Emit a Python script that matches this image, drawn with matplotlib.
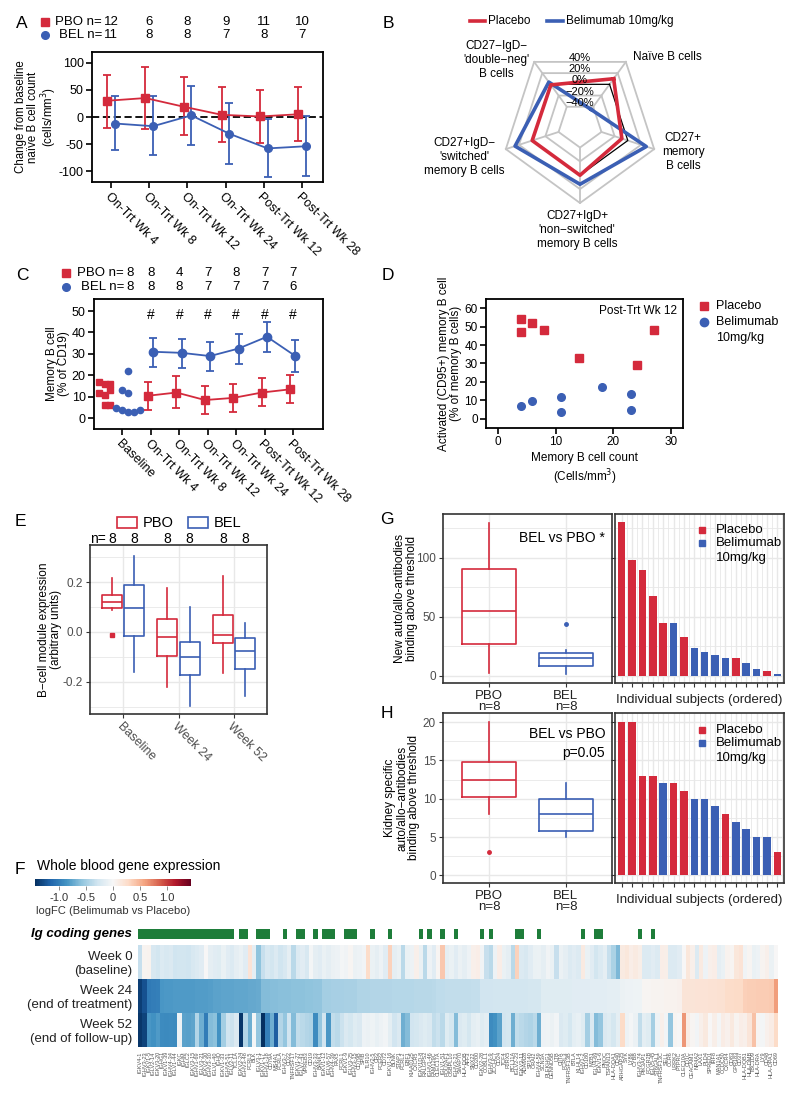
import numpy as np
import matplotlib.pyplot as plt
from matplotlib.transforms import blended_transform_factory
from matplotlib.patches import Rectangle
from matplotlib.cm import ScalarMappable
from matplotlib.colors import Normalize

plt.rcParams['font.family'] = ['Liberation Sans', 'DejaVu Sans']
plt.rcParams['axes.unicode_minus'] = False

W, H = 800, 1105
RED = '#d42a3c'
BLUE = '#3b5fb4'
GRID = '#e8e8e8'
DARK = '#333333'

# ---------------- data ----------------
# A: change from baseline naive B cell count
a_times = ['On-Trt Wk 4', 'On-Trt Wk 8', 'On-Trt Wk 12', 'On-Trt Wk 24', 'Post-Trt Wk 12', 'Post-Trt Wk 28']
a_pbo = [30, 35, 19, 4, 1, 5]
a_pbo_lo = [-20, -23, -34, -47, -48, -44]
a_pbo_hi = [77, 93, 73, 56, 50, 56]
a_bel = [-12, -17, 3, -31, -58, -54]
a_bel_lo = [-61, -71, -52, -86, -111, -109]
a_bel_hi = [38, 39, 58, 25, -4, 2]
a_pbo_n = [12, 6, 8, 9, 11, 10]
a_bel_n = [11, 8, 8, 7, 8, 7]

# B: radar, % change
b_axes = ["Naïve B cells", "CD27+\nmemory\nB cells", "CD27+IgD+\n'non−switched'\nmemory B cells",
          "CD27+IgD−\n'switched'\nmemory B cells", "CD27−IgD−\n'double−neg'\nB cells"]
b_placebo = [10, -9, 0, 0, -1]
b_bel = [-45, 28, 13, 26, 4]
b_rings = [-40, -20, 0, 20, 40]

# C: memory B cells % of CD19
c_times = ['Baseline'] + a_times
c_base_pbo = [17, 12, 16, 11, 6, 16, 13, 6]
c_base_bel = [5, 13, 4, 22, 12, 3, 3, 4]
c_swarm_pbo_dx = [-0.84, -0.84, -0.63, -0.63, -0.63, -0.42, -0.42, -0.42]
c_swarm_bel_dx = [-0.21, 0, 0, 0.18, 0.18, 0.18, 0.39, 0.6]
c_pbo = [10.5, 12, 8.5, 9.5, 12, 13.5]
c_pbo_lo = [4, 5, 2, 3, 5.5, 7]
c_pbo_hi = [17, 19.5, 15, 16, 19, 20]
c_bel = [31, 30.5, 29, 32.5, 38, 29]
c_bel_lo = [24, 23.5, 22, 25.5, 31, 21.5]
c_bel_hi = [37.5, 37, 35.5, 39.5, 45, 36.5]
c_pbo_n = [8, 8, 4, 7, 8, 7, 7]
c_bel_n = [8, 8, 8, 7, 7, 7, 6]

# D: activated memory B cells vs count
d_pbo_x = [4, 4, 6, 8, 14, 24, 27]
d_pbo_y = [54, 47, 52, 48, 33, 29, 48]
d_bel_x = [4, 6, 11, 11, 18, 23, 23]
d_bel_y = [7, 9.5, 12, 3.5, 17, 13.5, 5]

# E: B-cell module expression boxplots
e_times = ['Baseline', 'Week 24', 'Week 52']
e_pbo_whislo = [0.088, -0.22, -0.167]
e_pbo_q1 = [0.096, -0.095, -0.046]
e_pbo_med = [0.121, -0.022, -0.012]
e_pbo_q3 = [0.147, 0.053, 0.068]
e_pbo_whishi = [0.217, 0.175, 0.224]
e_pbo_fliers = [[-0.013], [], []]
e_bel_whislo = [-0.162, -0.296, -0.257]
e_bel_q1 = [-0.016, -0.174, -0.149]
e_bel_med = [0.096, -0.101, -0.075]
e_bel_q3 = [0.191, -0.040, -0.025]
e_bel_whishi = [0.305, 0.099, 0.037]
e_n = [8, 8, 8, 8, 8, 8]

# G: new auto/allo-antibodies
g_pbo_box = dict(whislo=2.8, q1=27.1, med=55.3, q3=90.7, whishi=129, fliers=[])
g_bel_box = dict(whislo=1.4, q1=8.5, med=15.3, q3=19.5, whishi=22, fliers=[43.8])
g_bars = [130, 98, 90, 68, 45, 45, 33, 23.5, 20, 18, 15, 15, 11, 6, 4, 2]
g_groups = ['P', 'P', 'P', 'P', 'P', 'B', 'P', 'B', 'B', 'B', 'B', 'P', 'B', 'B', 'P', 'B']

# H: kidney specific antibodies
h_pbo_box = dict(whislo=8, q1=10.25, med=12.5, q3=14.75, whishi=20, fliers=[3])
h_bel_box = dict(whislo=5, q1=5.75, med=8, q3=10, whishi=12, fliers=[])
h_bars = [20, 20, 13, 13, 12, 12, 11, 10, 10, 9, 8, 7, 6, 5, 5, 3]
h_groups = ['P', 'P', 'P', 'P', 'B', 'P', 'P', 'B', 'B', 'B', 'P', 'B', 'B', 'B', 'B', 'P']

# F: whole blood gene expression heatmap (logFC)
f_genes = ['IGKV4-1', 'IGHV3-23', 'IGKV1-5', 'IGLV2-14', 'IGKV3-20', 'IGHG1', 'IGKV1-39', 'IGHV4-34',
           'IGLV1-44', 'IGKC', 'IGHM', 'IGLC2', 'IGKV3-15', 'IGHV1-69', 'IGLV3-21', 'IGKV2-30',
           'IGHV3-30', 'IGLV1-40', 'IGHD', 'IGKV1-33', 'IGHV5-51', 'IGLV2-11', 'TCL1A', 'IGKV2-24',
           'IGHV3-48', 'FCRL5', 'BLK', 'IGLV3-1', 'IGKV1-17', 'IGHV1-18', 'CD79A', 'MS4A1',
           'FCRLA', 'IGHV3-7', 'CD22', 'TNFRSF17', 'IGKV1-27', 'IGLV7-43', 'VPREB3', 'CD19',
           'IGHV3-33', 'BANK1', 'IGKV1-12', 'IGLV6-57', 'IGHV4-39', 'PAX5', 'FCRL1', 'IGKV1-9',
           'IGLV3-25', 'IGHV3-15', 'CD79B', 'SPIB', 'TLR10', 'IGHV2-5', 'CR2', 'FCER2',
           'CD72', 'IGKV1-16', 'BLNK', 'STAP1', 'FCRL2', 'EBF1', 'KIAA0125', 'CXCR5',
           'IGKV1D-8', 'RALGPS2', 'IGHV1-46', 'FAM129C', 'CLEC17A', 'IGLV1-51', 'POU2AF1', 'OSBPL10',
           'IGHV3-21', 'SWAP70', 'HLA-DOB', 'AFF3', 'SNX22', 'CD200', 'IGKV2-28', 'COBLL1',
           'IGHV3-9', 'ZCCHC7', 'CD24', 'TCF4', 'P2RX5', 'BCL11A', 'IGLV2-23', 'IGKV3-11',
           'ADAM28', 'SP140', 'ORAI2', 'IGHV4-59', 'SCN3A', 'PLEKHG1', 'DENND5B', 'LTB',
           'CIITA', 'FCRL3', 'TNFRSF13B', 'BTLA', 'KLHL14', 'IGHV1-2', 'CD180', 'MZB1',
           'IGLV4-69', 'IGKV1-6', 'PNOC', 'TSPAN13', 'HLA-DQA1', 'CD40', 'ARHGAP25', 'SYK',
           'LY86', 'CYBB', 'IGHV3-74', 'PIK3AP1', 'FCGR2B', 'IGLV5-45', 'ST6GAL1', 'TNFRSF13C',
           'SELL', 'CCR6', 'LRRK2', 'PTPRC', 'CLEC10A', 'CD1C', 'CEACAM1', 'NR4A2',
           'LAX1', 'PLD4', 'SPRED1', 'IRF8', 'MAN1A1', 'CCDC50', 'CXCR4', 'CD83',
           'GPR183', 'CD37', 'HLA-DQB1', 'HLA-DMB', 'TBC1D9', 'HLA-DRA', 'LY9', 'CD48',
           'HLA-DPA1', 'CD69']
f_week0 = [-0.33, 0.04, 0.05, -0.23, -0.26, -0.20, -0.23, -0.21, -0.29, -0.26,
           -0.26, -0.29, -0.23, -0.20, -0.16, 0.00, -0.13, -0.16, -0.18, -0.10,
           -0.16, -0.20, -0.13, -0.10, -0.16, 0.20, -0.13, -0.58, -0.33, -0.23,
           -0.26, -0.20, -0.29, -0.23, -0.13, -0.39, -0.20, -0.16, -0.23, -0.03,
           -0.13, -0.16, -0.10, -0.13, -0.08, -0.07, -0.03, -0.05, 0.03, -0.08,
           -0.07, -0.04, 0.26, -0.10, -0.13, -0.07, -0.16, 0.33, -0.13, -0.10,
           -0.39, -0.10, -0.07, 0.07, -0.10, -0.39, -0.07, -0.16, 0.03, 0.39,
           -0.13, -0.10, -0.16, -0.08, -0.13, -0.07, 0.07, 0.10, -0.05, -0.33,
           -0.39, -0.07, 0.10, -0.10, -0.13, -0.39, 0.33, -0.20, -0.23, -0.16,
           -0.10, -0.08, -0.13, -0.05, -0.10, -0.33, -0.08, -0.13, -0.20, -0.16,
           -0.20, 0.13, -0.10, -0.16, -0.26, -0.20, -0.13, -0.33, -0.46, -0.65,
           0.13, 0.16, 0.10, 0.13, 0.08, -0.20, -0.20, -0.16, -0.20, 0.10,
           0.08, -0.20, -0.20, -0.16, 0.00, 0.16, 0.07, -0.20, 0.13, -0.07,
           0.07, 0.10, -0.13, -0.10, 0.05, 0.03, 0.16, 0.20, -0.05, 0.03,
           -0.10, -0.07, 0.04, 0.07, -0.08, 0.00]
f_week24 = [-1.35, -1.25, -1.02, -1.00, -0.98, -0.84, -0.83, -0.83, -0.82, -0.82,
            -0.82, -0.81, -0.81, -0.80, -0.80, -0.80, -0.79, -0.77, -0.77, -0.76,
            -0.76, -0.76, -0.75, -0.75, -0.75, -0.74, -0.74, -0.73, -0.62, -0.62,
            -0.61, -0.61, -0.60, -0.60, -0.60, -0.59, -0.59, -0.59, -0.58, -0.58,
            -0.57, -0.57, -0.49, -0.49, -0.48, -0.48, -0.48, -0.47, -0.47, -0.47,
            -0.43, -0.43, -0.43, -0.42, -0.42, -0.42, -0.42, -0.42, -0.41, -0.41,
            -0.41, -0.41, -0.41, -0.40, -0.40, -0.40, -0.40, -0.39, -0.37, -0.37,
            -0.36, -0.36, -0.36, -0.35, -0.35, -0.35, -0.34, -0.34, -0.28, -0.28,
            -0.28, -0.27, -0.27, -0.27, -0.27, -0.26, -0.26, -0.26, -0.26, -0.25,
            -0.25, -0.25, -0.18, -0.18, -0.18, -0.17, -0.17, -0.17, -0.17, -0.16,
            -0.16, -0.16, -0.16, -0.15, -0.15, -0.15, -0.15, -0.14, -0.14, -0.14,
            -0.08, -0.07, -0.07, -0.06, -0.06, 0.03, 0.03, 0.04, 0.04, 0.04,
            0.05, 0.05, 0.05, 0.06, 0.18, 0.19, 0.19, 0.20, 0.20, 0.20,
            0.21, 0.21, 0.22, 0.22, 0.26, 0.26, 0.27, 0.27, 0.34, 0.35,
            0.35, 0.36, 0.36, 0.37, 0.38, 0.60]
f_week52 = [-1.40, -1.33, -0.84, -0.87, -0.81, -0.91, -0.92, -0.90, -0.92, -0.07,
            -0.77, -0.78, -0.76, -0.42, -0.70, -1.01, -0.63, -0.59, -0.87, -0.49,
            -0.28, -0.31, -0.21, -1.40, -0.42, -0.70, -0.03, -0.56, -1.60, -0.98,
            -0.70, -1.19, -0.42, -0.56, -0.28, -0.63, -0.35, -0.39, -0.42, -0.45,
            -0.91, -0.56, -0.28, -0.84, -0.35, -0.39, -0.31, -0.21, -0.25, -0.17,
            -0.21, -0.07, -0.08, -0.06, -0.11, -0.07, -0.04, -0.14, -0.28, -0.21,
            -0.70, -0.63, -0.28, -0.25, -0.21, -0.17, -0.21, -0.35, -0.31, -0.39,
            -0.17, -0.25, -0.63, -0.21, -0.17, -0.25, -0.14, -0.11, -0.17, -0.14,
            -0.91, -0.87, -0.77, -0.28, -0.25, -0.70, -0.35, -0.39, -0.42, -0.45,
            -0.39, -0.70, -0.07, -0.06, -0.08, -0.04, -0.21, -0.17, -0.25, -0.14,
            -0.11, -0.17, -0.49, -0.21, -0.63, -0.56, -0.21, -0.17, -0.25, -0.14,
            0.28, -0.07, -0.03, -0.08, -0.35, -0.14, -0.17, -0.49, -0.07, 0.07,
            -0.04, -0.56, 0.03, 0.00, 0.63, 0.11, 0.03, -0.04, 0.07, 0.14,
            0.00, 0.08, -0.03, 0.11, 0.06, 0.14, 0.04, 0.10, 0.07, 0.17,
            0.42, 0.03, -0.03, 0.06, 0.11, 0.28]
f_rows = ['Week 0\n(baseline)', 'Week 24\n(end of treatment)', 'Week 52\n(end of follow-up)']


# ---------------- helpers ----------------
fig = plt.figure(figsize=(W / 100, H / 100), dpi=100)


def px_axes(l, t, r, b):
    return fig.add_axes([l / W, 1 - b / H, (r - l) / W, (b - t) / H])


def prism_axes(ax):
    for s in ax.spines.values():
        s.set_linewidth(1.3)
        s.set_color('black')
    ax.tick_params(direction='out', length=4, width=1.2, labelsize=9, pad=2)


def gg_axes(ax):
    for s in ax.spines.values():
        s.set_linewidth(1.2)
        s.set_color(DARK)
    ax.set_facecolor('white')
    ax.grid(True, which='major', color=GRID, lw=1.0)
    ax.grid(True, which='minor', color=GRID, lw=0.6)
    ax.set_axisbelow(True)
    ax.tick_params(which='both', direction='out', length=3, width=0.8, color=DARK,
                   labelsize=8.5, labelcolor='#4d4d4d', pad=2)
    ax.tick_params(which='minor', length=0)


def ylabel_at(ax, text, x_px, size):
    # centre the (rotated) y label at a given pixel column
    l = ax.get_position().x0 * W
    w = ax.get_position().width * W
    ax.set_ylabel(text, fontsize=size, va='center', ha='center', linespacing=1.05)
    ax.yaxis.set_label_coords((x_px - l) / w, 0.5)


def gcol(g):
    return RED if g == 'P' else BLUE


# ---------------- panel A ----------------
axA = px_axes(92, 52, 323, 182)
xa = np.arange(len(a_times))
axA.axhline(0, color='black', ls=(0, (4, 2)), lw=1.3, zorder=1)
axA.errorbar(xa - 0.1, a_pbo, yerr=[np.subtract(a_pbo, a_pbo_lo), np.subtract(a_pbo_hi, a_pbo)],
             color=RED, marker='s', ms=5.5, lw=1.3, capsize=3, capthick=1.3, zorder=3)
axA.errorbar(xa + 0.1, a_bel, yerr=[np.subtract(a_bel, a_bel_lo), np.subtract(a_bel_hi, a_bel)],
             color=BLUE, marker='o', ms=5.5, lw=1.3, capsize=3, capthick=1.3, zorder=3)
axA.set_xlim(-0.5, 5.55)
axA.set_ylim(-120, 120)
axA.set_yticks([-100, -50, 0, 50, 100])
axA.set_xticks(xa)
axA.set_xticklabels(a_times, rotation=-45, ha='left', va='top', rotation_mode='anchor', fontsize=9)
prism_axes(axA)
ylabel_at(axA, 'Change from baseline\nnaïve B cell count\n(cells/mm$^3$)', 37, 8.3)
tA = blended_transform_factory(axA.transData, axA.transAxes)
for i in range(len(a_times)):
    axA.text(i, 1.23, str(a_pbo_n[i]), transform=tA, ha='center', va='center', fontsize=9.5)
    axA.text(i, 1.13, str(a_bel_n[i]), transform=tA, ha='center', va='center', fontsize=9.5)

# ---------------- panel C ----------------
axC = px_axes(94, 299, 323, 429)
xc = np.arange(1, len(c_times))
axC.plot(c_swarm_pbo_dx, c_base_pbo, 's', color=RED, ms=5, ls='none')
axC.plot(c_swarm_bel_dx, c_base_bel, 'o', color=BLUE, ms=4.5, ls='none')
axC.errorbar(xc - 0.1, c_pbo, yerr=[np.subtract(c_pbo, c_pbo_lo), np.subtract(c_pbo_hi, c_pbo)],
             color=RED, marker='s', ms=5.5, lw=1.3, capsize=3, capthick=1.3)
axC.errorbar(xc + 0.08, c_bel, yerr=[np.subtract(c_bel, c_bel_lo), np.subtract(c_bel_hi, c_bel)],
             color=BLUE, marker='o', ms=6, lw=1.3, capsize=3, capthick=1.3)
for x in xc:
    axC.text(x, 48, '#', ha='center', va='center', fontsize=10)
axC.set_xlim(-1.0, 7.05)
axC.set_ylim(-5, 55.6)
axC.set_yticks([0, 10, 20, 30, 40, 50])
axC.set_xticks(np.arange(len(c_times)))
axC.set_xticklabels(c_times, rotation=-45, ha='left', va='top', rotation_mode='anchor', fontsize=9)
prism_axes(axC)
ylabel_at(axC, 'Memory B cell\n(% of CD19)', 58, 8.5)
tC = blended_transform_factory(axC.transData, axC.transAxes)
c_nx = [0.28] + list(xc)
for i in range(len(c_times)):
    axC.text(c_nx[i], 1.2, str(c_pbo_n[i]), transform=tC, ha='center', va='center', fontsize=9.5)
    axC.text(c_nx[i], 1.09, str(c_bel_n[i]), transform=tC, ha='center', va='center', fontsize=9.5)

# ---------------- panel B (radar) ----------------
axB = px_axes(400, 0, 800, 260)
axB.set_xlim(-180, 220)
axB.set_ylim(-135, 125)
axB.axis('off')
RMIN, RMAX, RPX = -72.5, 40, 78
ang = np.deg2rad([54, -18, -90, -162, -234])


def rad(v):
    return (np.asarray(v, dtype=float) - RMIN) / (RMAX - RMIN) * RPX


def poly(vals):
    r = rad(vals)
    x = r * np.cos(ang)
    y = r * np.sin(ang)
    return np.append(x, x[0]), np.append(y, y[0])


for lev in b_rings:
    px_, py_ = poly([lev] * 5)
    if lev == 0:
        axB.plot(px_, py_, color='black', lw=0.9, zorder=3)
    else:
        axB.plot(px_, py_, color='#c4c4c4', lw=1.3, zorder=1)
r_in, r_out = rad(b_rings[0]), rad(b_rings[-1])
for a in ang:
    axB.plot([r_in * np.cos(a), r_out * np.cos(a)], [r_in * np.sin(a), r_out * np.sin(a)],
             color='#c4c4c4', lw=1.3, zorder=1)
px_, py_ = poly(b_bel)
axB.plot(px_, py_, color=BLUE, lw=2.6, zorder=4)
px_, py_ = poly(b_placebo)
axB.plot(px_, py_, color=RED, lw=2.6, zorder=5)
for lev in b_rings:
    axB.text(0, float(rad(lev)) * np.sin(np.deg2rad(54)) - 1, f'{lev}%'.replace('-', '−'),
             ha='center', va='bottom', fontsize=8, zorder=6)
b_lab_pos = [(87, 68), (103, -27), (-3, -105), (-116, -32), (-84, 65)]
for lab, (lx, ly) in zip(b_axes, b_lab_pos):
    axB.text(lx, ly, lab, ha='center', va='center', fontsize=8.5, linespacing=1.2)

# ---------------- panel D ----------------
axD = px_axes(486, 299, 683, 428)
axD.plot(d_pbo_x, d_pbo_y, 's', color=RED, ms=5.5)
axD.plot(d_bel_x, d_bel_y, 'o', color=BLUE, ms=5.5)
axD.set_xlim(-2, 32)
axD.set_ylim(-5, 65)
axD.set_xticks([0, 10, 20, 30])
axD.set_yticks([0, 10, 20, 30, 40, 50, 60])
prism_axes(axD)
axD.tick_params(labelsize=8.5)
axD.text(0.97, 0.91, 'Post-Trt Wk 12', transform=axD.transAxes, ha='right', va='center', fontsize=8.5)
axD.set_xlabel('Memory B cell count\n(Cells/mm$^3$)', fontsize=8.5, labelpad=3)
ylabel_at(axD, 'Activated (CD95+) memory B cell\n(% of memory B cells)', 450, 8.5)

# ---------------- panel E ----------------
axE = px_axes(90, 545, 267, 714)
xe = np.arange(1, len(e_times) + 1)
pbo_stats = [dict(whislo=e_pbo_whislo[i], q1=e_pbo_q1[i], med=e_pbo_med[i], q3=e_pbo_q3[i],
                  whishi=e_pbo_whishi[i], fliers=e_pbo_fliers[i]) for i in range(3)]
bel_stats = [dict(whislo=e_bel_whislo[i], q1=e_bel_q1[i], med=e_bel_med[i], q3=e_bel_q3[i],
                  whishi=e_bel_whishi[i], fliers=[]) for i in range(3)]
for stats, dx, col in [(pbo_stats, -0.2, RED), (bel_stats, 0.2, BLUE)]:
    axE.bxp(stats, positions=xe + dx, widths=0.36, showcaps=False, manage_ticks=False,
            boxprops=dict(color=col, lw=1.2), medianprops=dict(color=col, lw=1.2),
            whiskerprops=dict(color=col, lw=1.2),
            flierprops=dict(marker='s', markersize=2.5, markerfacecolor=col, markeredgecolor=col))
axE.set_xlim(0.4, 3.6)
axE.set_ylim(-0.33, 0.35)
axE.set_yticks([-0.2, 0.0, 0.2])
axE.set_yticks([-0.3, -0.1, 0.1, 0.3], minor=True)
axE.set_yticklabels(['-0.2', '0.0', '0.2'])
axE.set_xticks(xe)
axE.set_xticklabels(e_times, rotation=-45, ha='left', va='top', rotation_mode='anchor')
gg_axes(axE)
axE.tick_params(axis='x', labelsize=9)
ylabel_at(axE, 'B−cell module expression\n(arbitrary units)', 50, 8.5)
tE = blended_transform_factory(axE.transData, axE.transAxes)
e_nx = [x + d for x in xe for d in (-0.2, 0.2)]
for x, n in zip(e_nx, e_n):
    axE.text(x, 1.035, str(n), transform=tE, ha='center', va='center', fontsize=10)
axE.text(0.69, 1.035, 'n=', transform=tE, ha='right', va='center', fontsize=10)


# ---------------- panels G and H ----------------
def box_panel(ax, pbo_box, bel_box, ylim, major, minor, note, note_y):
    ax.bxp([pbo_box], positions=[1], widths=0.7, showcaps=False, manage_ticks=False,
           boxprops=dict(color=RED, lw=1.2), medianprops=dict(color=RED, lw=1.2),
           whiskerprops=dict(color=RED, lw=1.2),
           flierprops=dict(marker='o', markersize=2.5, markerfacecolor=RED, markeredgecolor=RED))
    ax.bxp([bel_box], positions=[2], widths=0.7, showcaps=False, manage_ticks=False,
           boxprops=dict(color=BLUE, lw=1.2), medianprops=dict(color=BLUE, lw=1.2),
           whiskerprops=dict(color=BLUE, lw=1.2),
           flierprops=dict(marker='o', markersize=2.5, markerfacecolor=BLUE, markeredgecolor=BLUE))
    ax.set_xlim(0.4, 2.6)
    ax.set_ylim(*ylim)
    ax.set_yticks(major)
    ax.set_yticks(minor, minor=True)
    ax.set_xticks([1, 2])
    ax.set_xticklabels(['PBO\nn=8', 'BEL\nn=8'], linespacing=0.95)
    gg_axes(ax)
    ax.tick_params(axis='x', labelsize=9.5, labelcolor='#222222', pad=2)
    ax.text(0.96, note_y, note, transform=ax.transAxes, ha='right', va='top', fontsize=10,
            linespacing=1.45)


def bar_panel(ax, vals, groups, ylim, major, minor):
    xb = np.arange(1, len(vals) + 1)
    ax.bar(xb, vals, width=0.72, color=[gcol(g) for g in groups])
    ax.set_xlim(0.35, len(vals) + 0.65)
    ax.set_ylim(*ylim)
    ax.set_yticks(major)
    ax.set_yticks(minor, minor=True)
    ax.set_xticks(xb)
    ax.set_xticks(xb + 0.5, minor=True)
    ax.set_yticklabels([])
    ax.set_xticklabels([])
    gg_axes(ax)
    ax.set_xlabel('Individual subjects (ordered)', fontsize=9.5, labelpad=3, color='#222222')


axG = px_axes(443, 514, 612, 683)
box_panel(axG, g_pbo_box, g_bel_box, (-6, 137), [0, 50, 100], [25, 75, 125], 'BEL vs PBO *', 0.9)
ylabel_at(axG, 'New auto/allo-antibodies\nbinding above threshold', 406, 8.5)
axG2 = px_axes(615, 514, 784, 683)
bar_panel(axG2, g_bars, g_groups, (-6, 137), [0, 50, 100], [25, 75, 125])

axH = px_axes(443, 713, 612, 883)
box_panel(axH, h_pbo_box, h_bel_box, (-1, 21.2), [0, 5, 10, 15, 20], [2.5, 7.5, 12.5, 17.5],
          'BEL vs PBO\np=0.05', 0.915)
ylabel_at(axH, 'Kidney specific\nauto/allo−antibodies\nbinding above threshold', 402, 8.5)
axH2 = px_axes(615, 713, 784, 883)
bar_panel(axH2, h_bars, h_groups, (-1, 21.2), [0, 5, 10, 15, 20], [2.5, 7.5, 12.5, 17.5])

# ---------------- panel F (heatmap) ----------------
ng = len(f_genes)
hm = np.array([f_week0, f_week24, f_week52])
norm = Normalize(vmin=-1.44, vmax=1.44)
axF = px_axes(138, 945, 778, 1047)
axF.imshow(hm, cmap='RdBu_r', norm=norm, aspect='auto', interpolation='nearest',
           extent=(-0.5, ng - 0.5, 2.5, -0.5))
axF.set_yticks([0, 1, 2])
axF.set_yticklabels(f_rows, fontsize=9.5, color='#222222')
axF.set_xticks(np.arange(ng))
axF.set_xticklabels(f_genes, rotation=90, fontsize=4, color='#555555')
axF.tick_params(length=0, pad=4)
axF.tick_params(axis='x', pad=3)
for s in axF.spines.values():
    s.set_visible(False)

axIg = px_axes(138, 929, 778, 939)
ig_idx = [i for i, g in enumerate(f_genes) if g.startswith('IG')]
axIg.bar(ig_idx, [1] * len(ig_idx), width=1.0, color='#1e7d3a', align='center')
axIg.set_xlim(-0.5, ng - 0.5)
axIg.set_ylim(0, 1)
axIg.axis('off')

cax = px_axes(35, 879, 191, 886)
cb = fig.colorbar(ScalarMappable(norm=norm, cmap='RdBu_r'), cax=cax, orientation='horizontal')
cb.outline.set_visible(False)
cb.set_ticks([-1.0, -0.5, 0, 0.5, 1.0])
cb.set_ticklabels(['-1.0', '-0.5', '0', '0.5', '1.0'])
cax.tick_params(length=3, width=0.6, color='#777777', labelsize=8, labelcolor='#333333', pad=2)
cax.set_xlabel('logFC (Belimumab vs Placebo)', fontsize=8, labelpad=2, color='#333333')

# ---------------- overlay: panel letters, legends, headers ----------------
ov = fig.add_axes([0, 0, 1, 1])
ov.set_xlim(0, W)
ov.set_ylim(H, 0)
ov.axis('off')
for lab, x, y in [('A', 22, 23), ('B', 388, 23), ('C', 22, 275), ('D', 388, 275),
                  ('E', 20, 522), ('G', 387, 520), ('H', 387, 714), ('F', 20, 870)]:
    ov.text(x, y, lab, fontsize=12.5, ha='center', va='center')

# A / C header keys
for yy, mk, col, txt, xm, xr in [(22, 's', RED, 'PBO n=', 45, 102), (35, 'o', BLUE, 'BEL n=', 45, 102),
                                 (273, 's', RED, 'PBO n=', 66, 124), (287, 'o', BLUE, 'BEL n=', 66, 124)]:
    ov.plot(xm, yy, mk, color=col, ms=5.5)
    ov.text(xr, yy, txt, ha='right', va='center', fontsize=9.5)

# B legend
ov.plot([470, 485], [21, 21], color=RED, lw=2.6)
ov.text(488, 21, 'Placebo', ha='left', va='center', fontsize=8.5)
ov.plot([547, 563], [21, 21], color=BLUE, lw=2.6)
ov.text(566, 21, 'Belimumab 10mg/kg', ha='left', va='center', fontsize=8.5)

# D legend
ov.plot(704, 306, 's', color=RED, ms=6)
ov.text(716, 306, 'Placebo', ha='left', va='center', fontsize=9)
ov.plot(704, 322, 'o', color=BLUE, ms=6)
ov.text(716, 322, 'Belimumab', ha='left', va='center', fontsize=9)
ov.text(716, 338, '10mg/kg', ha='left', va='center', fontsize=9)

# E legend
ov.add_patch(Rectangle((117, 517), 20, 11, fill=False, edgecolor=RED, lw=1.2))
ov.text(143, 523, 'PBO', ha='left', va='center', fontsize=10.5)
ov.add_patch(Rectangle((188, 517), 20, 11, fill=False, edgecolor=BLUE, lw=1.2))
ov.text(214, 523, 'BEL', ha='left', va='center', fontsize=10.5)

# G / H legends
for y0 in (530, 730):
    ov.plot(702, y0, 's', color=RED, ms=5)
    ov.text(716, y0, 'Placebo', ha='left', va='center', fontsize=9.5)
    ov.plot(702, y0 + 13, 's', color=BLUE, ms=5)
    ov.text(716, y0 + 13, 'Belimumab', ha='left', va='center', fontsize=9.5)
    ov.text(716, y0 + 28, '10mg/kg', ha='left', va='center', fontsize=9.5)

# F title and Ig label
ov.text(37, 866, 'Whole blood gene expression', ha='left', va='center', fontsize=10)
ov.text(132, 934, 'Ig coding genes', ha='right', va='center', fontsize=9.5,
        fontweight='bold', fontstyle='italic')

fig.savefig('out.png', dpi=100)
